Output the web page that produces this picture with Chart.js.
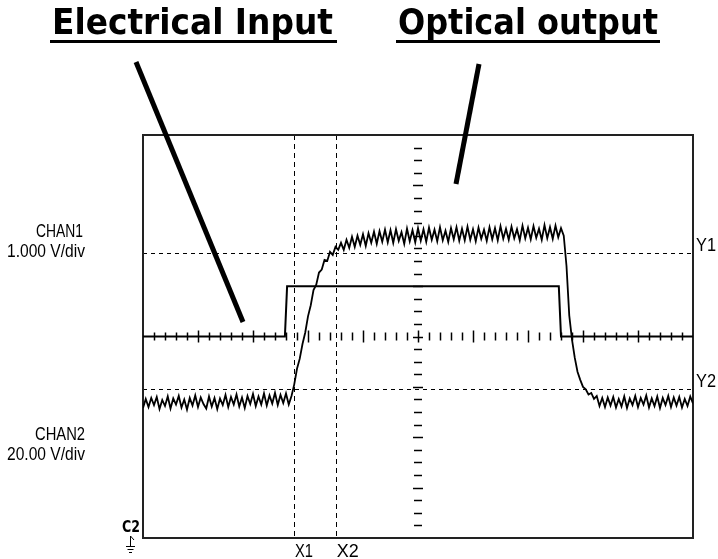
<!DOCTYPE html>
<html>
<head>
<meta charset="utf-8">
<script src="https://cdn.jsdelivr.net/npm/chart.js@4.4.0/dist/chart.umd.min.js"></script>
<style>
html,body{margin:0;padding:0;background:#fff;}
#wrap{width:718px;height:559px;}
</style>
</head>
<body>
<div id="wrap"><canvas id="scope" width="718" height="559"></canvas></div>
<script>
// screen is 10 x 8 divisions
var xRange = [-5, 5];
var yRange = [-4, 4];

// channel 1 : electrical input (divisions)
var ch1X = [-5, -2.42, -2.38, 2.56, 2.60, 5];
var ch1Y = [0, 0, 1, 1, 0, 0];

// channel 2 : optical output, one sample every 0.05 div from -5
var ch2Start = -5;
var ch2Step = 0.05;
var ch2Low = [-1.42, -1.24, -1.40, -1.22, -1.36, -1.20, -1.44, -1.26, -1.38, -1.19,
  -1.43, -1.23, -1.35, -1.18, -1.41, -1.25, -1.45, -1.22, -1.37, -1.17,
  -1.40, -1.21, -1.34, -1.43, -1.19, -1.39, -1.22, -1.44, -1.23, -1.36,
  -1.16, -1.40, -1.20, -1.35, -1.15, -1.39, -1.21, -1.42, -1.18, -1.34,
  -1.14, -1.38, -1.19, -1.35, -1.13, -1.37, -1.17, -1.33, -1.12, -1.36,
  -1.16, -1.32, -1.13, -1.35, -1.18];
var ch2Rise = [-0.95, -0.64, -0.44, -0.15, 0.08, 0.40, 0.62, 0.92, 1.03, 1.27,
  1.33, 1.52, 1.50, 1.68, 1.62, 1.78, 1.72, 1.86];
var ch2High = [1.72, 1.92, 1.76, 1.98, 1.78, 2.00, 1.82, 2.03, 1.80, 2.05,
  1.86, 2.08, 1.84, 2.09, 1.88, 2.12, 1.87, 2.11, 1.86, 2.13,
  1.90, 2.07, 1.84, 2.14, 1.89, 2.11, 1.87, 2.15, 1.90, 2.13,
  1.88, 2.16, 1.92, 2.12, 1.89, 2.17, 1.91, 2.10, 1.88, 2.15,
  1.93, 2.17, 1.90, 2.14, 1.91, 2.18, 1.92, 2.13, 1.89, 2.16,
  1.94, 2.12, 1.90, 2.17, 1.93, 2.15, 1.91, 2.19, 1.94, 2.14,
  1.92, 2.18, 1.95, 2.13, 1.91, 2.20, 1.95, 2.16, 1.93, 2.19,
  1.96, 2.14, 1.92, 2.21, 1.95, 2.17, 1.94, 2.20, 1.97, 2.15];
var ch2Fall = [2.00, 1.40, 0.42, -0.06, -0.42, -0.70, -0.86, -1.00, -1.05, -1.15,
  -1.12, -1.24, -1.18, -1.38, -1.22, -1.40, -1.21, -1.37, -1.20, -1.41,
  -1.24, -1.39, -1.19, -1.42, -1.23, -1.36, -1.18, -1.40, -1.22, -1.35,
  -1.17, -1.41, -1.23, -1.38, -1.19, -1.42, -1.22, -1.36, -1.18, -1.40,
  -1.21, -1.37, -1.20, -1.41, -1.24, -1.38, -1.19, -1.33];

// cursors
var cursorX = [-2.255, -1.496];
var cursorXLabels = ['X1', 'X2'];
var cursorY = [1.657, -1.036];
var cursorYLabels = ['Y1', 'Y2'];

var ch1Data = [];
for (var i = 0; i < ch1X.length; i++) ch1Data.push({x: ch1X[i], y: ch1Y[i]});

var ch2Values = ch2Low.concat(ch2Rise, ch2High, ch2Fall);
var ch2Data = [];
for (var j = 0; j < ch2Values.length; j++) ch2Data.push({x: ch2Start + j * ch2Step, y: ch2Values[j]});

function fitText(ctx, txt, x, y, w, font, align) {
  ctx.save();
  ctx.font = font;
  ctx.textAlign = align;
  ctx.textBaseline = 'alphabetic';
  var m = ctx.measureText(txt).width;
  ctx.translate(x, y);
  ctx.scale(w / m, 1);
  ctx.fillStyle = '#000';
  ctx.fillText(txt, 0, 0);
  ctx.restore();
}

var screenPlugin = {
  id: 'screen',
  beforeDatasetsDraw: function(chart) {
    var ctx = chart.ctx;
    var xs = chart.scales.x, ys = chart.scales.y;
    var a = chart.chartArea;
    var cx = xs.getPixelForValue(0), cy = ys.getPixelForValue(0);
    ctx.save();
    ctx.strokeStyle = '#000';
    // cursor lines
    ctx.lineWidth = 1;
    ctx.setLineDash([5, 4]);
    cursorX.forEach(function(v) {
      var px = Math.round(xs.getPixelForValue(v)) + 0.5;
      ctx.beginPath(); ctx.moveTo(px, a.top); ctx.lineTo(px, a.bottom); ctx.stroke();
    });
    ctx.setLineDash([4, 4]);
    cursorY.forEach(function(v) {
      var py = Math.round(ys.getPixelForValue(v)) + 0.5;
      ctx.beginPath(); ctx.moveTo(a.left, py); ctx.lineTo(a.right, py); ctx.stroke();
    });
    ctx.setLineDash([]);
    // centre graticule ticks
    ctx.lineWidth = 1.5;
    for (var t = -4.8; t < 4.9; t += 0.2) {
      var tx = Math.round(xs.getPixelForValue(t)) + 0.5;
      var major = Math.abs(t - Math.round(t)) < 0.01;
      var h = major ? 6 : 4;
      ctx.beginPath(); ctx.moveTo(tx, cy - h); ctx.lineTo(tx, cy + h); ctx.stroke();
    }
    for (var s = -3.75; s < 3.8; s += 0.25) {
      var sy = Math.round(ys.getPixelForValue(s)) + 0.5;
      var maj = Math.abs(s - Math.round(s)) < 0.01;
      var w = maj ? 5 : 4;
      ctx.beginPath(); ctx.moveTo(cx - w, sy); ctx.lineTo(cx + w, sy); ctx.stroke();
    }
    // frame
    ctx.lineWidth = 2;
    ctx.strokeStyle = '#222';
    ctx.strokeRect(a.left, a.top, a.right - a.left, a.bottom - a.top);
    ctx.restore();
  },
  afterDraw: function(chart) {
    var ctx = chart.ctx;
    var xs = chart.scales.x, ys = chart.scales.y;
    ctx.save();
    // titles
    fitText(ctx, 'Electrical Input', 52, 34, 281, 'bold 36px "DejaVu Sans"', 'left');
    fitText(ctx, 'Optical output', 398, 34, 260, 'bold 36px "DejaVu Sans"', 'left');
    ctx.fillStyle = '#000';
    ctx.fillRect(50, 40, 287, 3);
    ctx.fillRect(396, 40, 264, 3);
    // pointers
    ctx.strokeStyle = '#000';
    ctx.lineWidth = 5;
    ctx.lineCap = 'butt';
    ctx.beginPath(); ctx.moveTo(136, 62); ctx.lineTo(243, 322); ctx.stroke();
    ctx.beginPath(); ctx.moveTo(479, 64); ctx.lineTo(456, 184); ctx.stroke();
    // channel labels
    fitText(ctx, 'CHAN1', 83, 237, 47, '19px "Liberation Sans"', 'right');
    fitText(ctx, '1.000 V/div', 85, 257, 78, '19px "Liberation Sans"', 'right');
    fitText(ctx, 'CHAN2', 85, 440, 50, '19px "Liberation Sans"', 'right');
    fitText(ctx, '20.00 V/div', 85, 460, 78, '19px "Liberation Sans"', 'right');
    // cursor labels
    cursorY.forEach(function(v, k) {
      var py = ys.getPixelForValue(v);
      fitText(ctx, cursorYLabels[k], 696, py - 2, 20, '19px "Liberation Sans"', 'left');
    });
    cursorX.forEach(function(v, k) {
      var px = xs.getPixelForValue(v);
      fitText(ctx, cursorXLabels[k], px + 1, 557, k == 0 ? 18 : 22, '19px "Liberation Sans"', 'left');
    });
    // ground marker
    fitText(ctx, 'C2', 122, 532, 18, 'bold 15px "DejaVu Sans"', 'left');
    ctx.lineWidth = 1;
    ctx.beginPath();
    ctx.moveTo(130.5, 536); ctx.lineTo(130.5, 546);
    ctx.moveTo(130.5, 536); ctx.lineTo(134, 540);
    ctx.moveTo(126, 546.5); ctx.lineTo(135, 546.5);
    ctx.moveTo(127.5, 549.5); ctx.lineTo(133.5, 549.5);
    ctx.moveTo(129, 552.5); ctx.lineTo(132, 552.5);
    ctx.stroke();
    ctx.restore();
  }
};

var ctx = document.getElementById('scope').getContext('2d');
new Chart(ctx, {
  type: 'scatter',
  data: {
    datasets: [{
      label: 'CHAN1',
      data: ch1Data,
      showLine: true,
      borderColor: '#000',
      borderWidth: 2,
      pointRadius: 0,
      tension: 0
    }, {
      label: 'CHAN2',
      data: ch2Data,
      showLine: true,
      borderColor: '#000',
      borderWidth: 1.8,
      pointRadius: 0,
      tension: 0
    }]
  },
  options: {
    responsive: false,
    animation: false,
    devicePixelRatio: 1,
    layout: {
      padding: {left: 143, top: 135, right: 25, bottom: 21}
    },
    plugins: {
      legend: {display: false},
      tooltip: {enabled: false}
    },
    scales: {
      x: {type: 'linear', min: xRange[0], max: xRange[1], display: false},
      y: {type: 'linear', min: yRange[0], max: yRange[1], display: false}
    }
  },
  plugins: [screenPlugin]
});
</script>
</body>
</html>
